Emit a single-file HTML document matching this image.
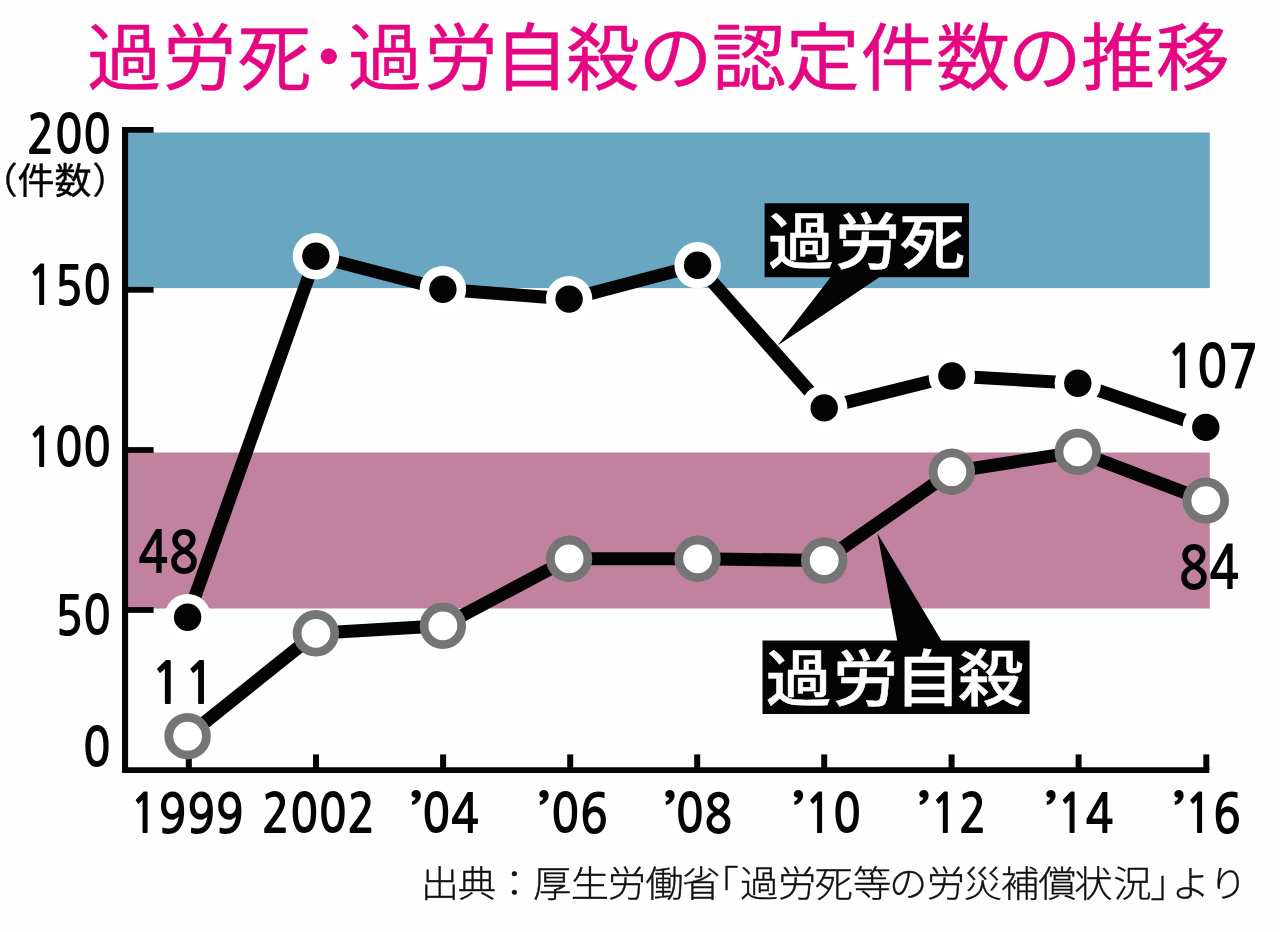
<!DOCTYPE html>
<html lang="ja"><head><meta charset="utf-8"><title>過労死・過労自殺の認定件数の推移</title>
<style>html,body{margin:0;padding:0;background:#fff}svg{display:block;will-change:transform}text{white-space:pre}</style></head><body>
<svg width="1280" height="932" viewBox="0 0 1280 932">
<rect width="1280" height="932" fill="#fefefe"/>
<rect x="125" y="132.5" width="1084.8" height="155.6" fill="#69a6c1"/>
<rect x="125" y="452.5" width="1084.8" height="156" fill="#c0829e"/>
<g stroke="#040404" fill="none" stroke-linecap="butt">
<path d="M125.05 127 V773.1" stroke-width="6.1"/>
<path d="M122 770.15 H1209.3" stroke-width="5.9"/>
<path d="M125 129.9 H153.6" stroke-width="5.8"/>
<path d="M125 289.8 H153.6" stroke-width="5.8"/>
<path d="M125 450.0 H153.6" stroke-width="5.8"/>
<path d="M125 610.0 H153.6" stroke-width="5.8"/>
<path d="M188.8 754.4 V770" stroke-width="6"/>
<path d="M316.0 754.4 V770" stroke-width="6"/>
<path d="M443.1 754.4 V770" stroke-width="6"/>
<path d="M570.2 754.4 V770" stroke-width="6"/>
<path d="M697.2 754.4 V770" stroke-width="6"/>
<path d="M824.2 754.4 V770" stroke-width="6"/>
<path d="M951.6 754.4 V770" stroke-width="6"/>
<path d="M1078.6 754.4 V770" stroke-width="6"/>
<path d="M1206.3 754.4 V770" stroke-width="6"/>
</g>
<polyline points="187.6,736.2 315.9,633.3 442.9,625.8 569.1,558.8 697.6,558.8 824.2,560.5 951.9,471.7 1077.8,451.9 1205.8,500.6" fill="none" stroke="#040404" stroke-width="13.1" stroke-linejoin="round"/>
<polyline points="187.6,617.2 315.9,256.3 442.9,289.2 569.1,299.1 697.6,265.3 824.2,407.9 951.9,376.0 1077.8,383.3 1205.8,427.4" fill="none" stroke="#040404" stroke-width="13" stroke-linejoin="round"/>
<path d="M764.6 203.3 H969 V277.3 H879.4 L777.6 345.6 L830.6 277.3 H764.6 Z" fill="#040404"/>
<path d="M762.5 640.5 H897.2 L877.4 533.5 L941.3 640.5 H1029.6 V713.9 H762.5 Z" fill="#040404"/>
<circle cx="187.6" cy="736.2" r="18.8" fill="#fff" stroke="#757575" stroke-width="8.8"/>
<circle cx="315.9" cy="633.3" r="18.8" fill="#fff" stroke="#757575" stroke-width="8.8"/>
<circle cx="442.9" cy="625.8" r="18.8" fill="#fff" stroke="#757575" stroke-width="8.8"/>
<circle cx="569.1" cy="558.8" r="18.8" fill="#fff" stroke="#757575" stroke-width="8.8"/>
<circle cx="697.6" cy="558.8" r="18.8" fill="#fff" stroke="#757575" stroke-width="8.8"/>
<circle cx="824.2" cy="560.5" r="18.8" fill="#fff" stroke="#757575" stroke-width="8.8"/>
<circle cx="951.9" cy="471.7" r="18.8" fill="#fff" stroke="#757575" stroke-width="8.8"/>
<circle cx="1077.8" cy="451.9" r="18.8" fill="#fff" stroke="#757575" stroke-width="8.8"/>
<circle cx="1205.8" cy="500.6" r="18.8" fill="#fff" stroke="#757575" stroke-width="8.8"/>
<circle cx="187.6" cy="617.2" r="23.2" fill="#fff"/>
<circle cx="187.6" cy="617.2" r="13.7" fill="#040404"/>
<circle cx="315.9" cy="256.3" r="23.2" fill="#fff"/>
<circle cx="315.9" cy="256.3" r="13.7" fill="#040404"/>
<circle cx="442.9" cy="289.2" r="23.2" fill="#fff"/>
<circle cx="442.9" cy="289.2" r="13.7" fill="#040404"/>
<circle cx="569.1" cy="299.1" r="23.2" fill="#fff"/>
<circle cx="569.1" cy="299.1" r="13.7" fill="#040404"/>
<circle cx="697.6" cy="265.3" r="23.2" fill="#fff"/>
<circle cx="697.6" cy="265.3" r="13.7" fill="#040404"/>
<circle cx="824.2" cy="407.9" r="23.2" fill="#fff"/>
<circle cx="824.2" cy="407.9" r="13.7" fill="#040404"/>
<circle cx="951.9" cy="376.0" r="23.2" fill="#fff"/>
<circle cx="951.9" cy="376.0" r="13.7" fill="#040404"/>
<circle cx="1077.8" cy="383.3" r="23.2" fill="#fff"/>
<circle cx="1077.8" cy="383.3" r="13.7" fill="#040404"/>
<circle cx="1205.8" cy="427.4" r="23.2" fill="#fff"/>
<circle cx="1205.8" cy="427.4" r="13.7" fill="#040404"/>
<g font-family='"NanumGothic", "Noto Sans CJK JP", "Liberation Sans", sans-serif' font-weight="700" fill="#040404">
<text transform="translate(26.51 153.86) scale(0.8666 1)" font-size="53.72">200</text>
<text transform="translate(26.51 305.21) scale(0.8666 1)" font-size="53.72">150</text>
<text transform="translate(26.51 467.01) scale(0.8666 1)" font-size="53.72">100</text>
<text transform="translate(54.90 635.16) scale(0.8666 1)" font-size="53.72">50</text>
<text transform="translate(82.83 766.66) scale(0.8666 1)" font-size="53.72">0</text>
<text transform="translate(129.83 833.26) scale(0.8704 1)" font-size="54.10">1999</text>
<text transform="translate(261.47 833.26) scale(0.8704 1)" font-size="54.10">2002</text>
<text transform="translate(409.38 836.19) scale(1.2372 1)" font-size="57.20">’</text>
<text transform="translate(422.10 833.26) scale(0.8704 1)" font-size="54.10">04</text>
<text transform="translate(537.18 836.19) scale(1.2372 1)" font-size="57.20">’</text>
<text transform="translate(551.12 833.26) scale(0.8704 1)" font-size="54.10">06</text>
<text transform="translate(663.18 836.19) scale(1.2372 1)" font-size="57.20">’</text>
<text transform="translate(675.54 833.26) scale(0.8704 1)" font-size="54.10">08</text>
<text transform="translate(791.68 836.19) scale(1.2372 1)" font-size="57.20">’</text>
<text transform="translate(804.13 833.26) scale(0.8704 1)" font-size="54.10">10</text>
<text transform="translate(917.18 836.19) scale(1.2372 1)" font-size="57.20">’</text>
<text transform="translate(930.07 833.26) scale(0.8704 1)" font-size="54.10">12</text>
<text transform="translate(1044.18 836.19) scale(1.2372 1)" font-size="57.20">’</text>
<text transform="translate(1056.65 833.26) scale(0.8704 1)" font-size="54.10">14</text>
<text transform="translate(1172.18 836.19) scale(1.2372 1)" font-size="57.20">’</text>
<text transform="translate(1184.13 833.26) scale(0.8704 1)" font-size="54.10">16</text>
<text transform="translate(137.89 573.07) scale(0.8622 1)" font-size="58.40">48</text>
<text transform="translate(149.99 703.50) scale(0.9364 1)" font-size="58.42">11</text>
<text transform="translate(1165.75 387.50) scale(0.8549 1)" font-size="59.87">107</text>
<text transform="translate(1178.49 589.01) scale(0.8560 1)" font-size="58.72">84</text>
</g>
<text transform="scale(1.025 1)" x="85.18 158.77 231.40 284.63 339.45 413.65 482.20 551.95 622.92 694.58 766.70 839.87 913.11 983.17 1054.75 1127.68" y="84.0" font-family='"Liberation Sans", "Noto Sans CJK JP", sans-serif' font-size="72.2" font-weight="400" fill="#e50682" stroke="#e50682" stroke-width="0.5" stroke-linejoin="round">過労死・過労自殺の認定件数の推移</text>
<text transform="scale(1.08 1)" x="711.17 772.94 832.76" y="264.2" font-family='"Liberation Sans", "Noto Sans CJK JP", sans-serif' font-size="60.9" font-weight="500" fill="#fff" stroke="#fff" stroke-width="0.5" stroke-linejoin="round">過労死</text>
<text transform="scale(1.08 1)" x="709.13 771.08 828.47 886.80" y="700.6" font-family='"Liberation Sans", "Noto Sans CJK JP", sans-serif' font-size="60.9" font-weight="500" fill="#fff" stroke="#fff" stroke-width="0.5" stroke-linejoin="round">過労自殺</text>
<text transform="scale(1.02 1)" x="-18.83 17.06 53.33 90.37" y="194.3" font-family='"Liberation Sans", "Noto Sans CJK JP", sans-serif' font-size="36.3" font-weight="400" fill="#040404" stroke="#040404" stroke-width="0.35" stroke-linejoin="round">（件数）</text>
<text transform="scale(1.05 1)" x="400.75 435.94 471.56 507.70 543.52 578.92 614.49 649.56 667.10 704.79 740.87 775.75 812.42 846.65 882.73 917.93 953.12 988.78 1023.18 1060.18 1095.45 1115.78 1151.33" y="897.3" font-family='"Liberation Sans", "Noto Sans CJK JP", sans-serif' font-size="36.5" font-weight="300" fill="#111" stroke="#111" stroke-width="0.35" stroke-linejoin="round">出典：厚生労働省「過労死等の労災補償状況」より</text>
</svg></body></html>
